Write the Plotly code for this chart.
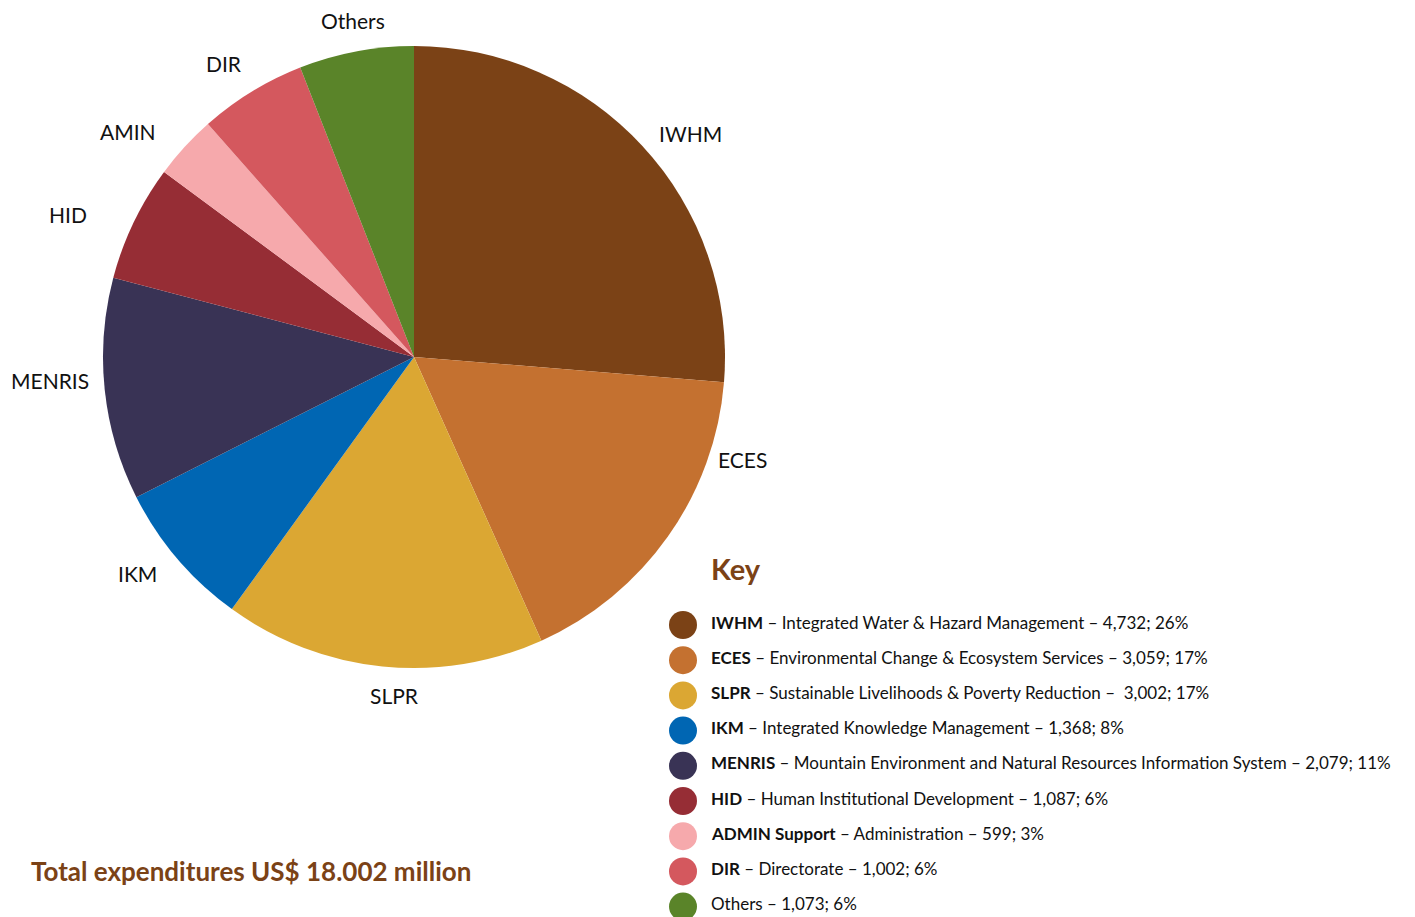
import plotly.graph_objects as go

# ---- data ----
codes = ["IWHM", "ECES", "SLPR", "IKM", "MENRIS", "HID", "AMIN", "DIR", "Others"]
values = [4732, 3059, 3002, 1368, 2079, 1087, 599, 1002, 1073]
colors = ["#7B4216", "#C47130", "#DBA733", "#0066B3", "#393355",
          "#962D35", "#F6A9AC", "#D4585E", "#5A8429"]
key_bold = ["IWHM", "ECES", "SLPR", "IKM", "MENRIS", "HID", "ADMIN Support", "DIR", ""]
key_desc = ["Integrated Water & Hazard Management – 4,732; 26%",
            "Environmental Change & Ecosystem Services – 3,059; 17%",
            "Sustainable Livelihoods & Poverty Reduction –  3,002; 17%",
            "Integrated Knowledge Management – 1,368; 8%",
            "Mountain Environment and Natural Resources Information System – 2,079; 11%",
            "Human Institutional Development – 1,087; 6%",
            "Administration – 599; 3%",
            "Directorate – 1,002; 6%",
            "Others – 1,073; 6%"]
total_text = "Total expenditures US$ 18.002 million"

# ---- layout constants (page pixels) ----
W, H = 1415, 917
OFF = 8  # page body margin
FONT = "Lato"
cx, cy, r = 414, 357, 311
label_pos = [(690, 133), (742, 459), (394, 695), (137, 573), (50, 380),
             (68, 214), (128, 131), (224, 63), (353, 20)]
key_x, key_y0, key_dy = 683, 625, 35.2
text_x = 709

fig = go.Figure()
fig.add_trace(go.Pie(
    labels=codes, values=values, sort=False, direction="clockwise", rotation=0,
    marker=dict(colors=colors, line=dict(width=0)),
    textinfo="none", hoverinfo="label+value+percent", showlegend=False,
    domain=dict(x=[(cx - OFF - r) / W, (cx - OFF + r) / W],
                y=[(H - (cy - OFF) - r) / H, (H - (cy - OFF) + r) / H]),
))

# legend markers
ys = [key_y0 + i * key_dy for i in range(len(codes))]
fig.add_trace(go.Scatter(
    x=[key_x] * len(codes), y=ys, mode="markers",
    marker=dict(size=28, color=colors, line=dict(width=0)),
    showlegend=False, hoverinfo="skip", xaxis="x", yaxis="y", cliponaxis=False,
))

ann = []
for code, (lx, ly) in zip(codes, label_pos):
    ann.append(dict(x=lx, y=ly, xref="x", yref="y", text=code, showarrow=False,
                    font=dict(family=FONT, size=21, color="#111111"),
                    xanchor="center", yanchor="middle"))
for b, d, y in zip(key_bold, key_desc, ys):
    t = (f"<b>{b}</b> – {d}" if b else d)
    ann.append(dict(x=text_x, y=y - 3, xref="x", yref="y", text=t, showarrow=False,
                    font=dict(family=FONT, size=17, color="#111111"),
                    xanchor="left", yanchor="middle"))
ann.append(dict(x=709, y=568, xref="x", yref="y", text="<b>Key</b>", showarrow=False,
                font=dict(family=FONT, size=29, color="#7B4216"),
                xanchor="left", yanchor="middle"))
ann.append(dict(x=29, y=871, xref="x", yref="y", text=f"<b>{total_text}</b>", showarrow=False,
                font=dict(family=FONT, size=26, color="#7B4216"),
                xanchor="left", yanchor="middle"))

fig.update_layout(
    width=W, height=H, margin=dict(l=0, r=0, t=0, b=0),
    paper_bgcolor="white", plot_bgcolor="rgba(0,0,0,0)",
    xaxis=dict(range=[OFF, W + OFF], domain=[0, 1], visible=False, fixedrange=True),
    yaxis=dict(range=[H + OFF, OFF], domain=[0, 1], visible=False, fixedrange=True),
    annotations=ann,
)
fig.write_html("out.html")
